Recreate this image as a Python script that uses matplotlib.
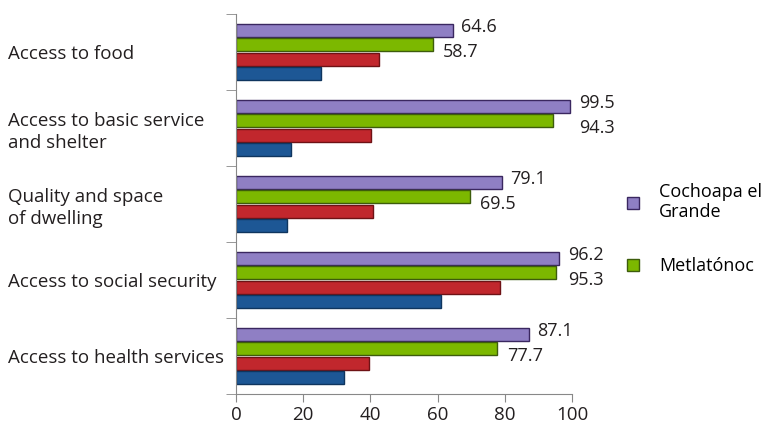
import numpy as np
from matplotlib import pyplot as plt

categories = ['Access to food', 'Access to basic service\nand shelter', 'Quality and space\nof dwelling',
              'Access to social security', 'Access to health services']
cochoapa = [64.6, 99.5, 79.1, 96.2, 87.1]
metlatonoc = [58.7, 94.3, 69.5, 95.3, 77.7]
red_series = [42.7, 40.3, 40.9, 78.5, 39.7]
blue_series = [25.2, 16.5, 15.3, 60.9, 32.2]

plt.rcParams['font.family'] = ['Open Sans', 'DejaVu Sans']
txt = '#231f20'

fig = plt.figure(figsize=(7.64, 4.23), dpi=100)
ax = fig.add_axes([236 / 764, 29 / 423, 336 / 764, 380 / 423])

y = np.arange(len(categories))
step = 0.192
h = 0.172
series = [
    (cochoapa, '#8f7fc4', '#3a2760', 'Cochoapa el\nGrande'),
    (metlatonoc, '#7cb800', '#3d5c0c', 'Metlatónoc'),
    (red_series, '#c1272d', '#6e1215', None),
    (blue_series, '#1d5795', '#0f355e', None),
]
for i, (vals, fc, ec, lab) in enumerate(series):
    pos = y - 1.5 * step + i * step
    ax.barh(pos, vals, height=h, color=fc, edgecolor=ec, linewidth=1, label=lab)

# value labels for the two named series
for k in range(len(categories)):
    p_top = y[k] - 1.5 * step
    px = cochoapa[k] + 2.5
    ax.text(px, p_top - 0.04, f'{cochoapa[k]:.1f}', va='center', ha='left', fontsize=13, color=txt)
    gx = metlatonoc[k] + 3
    if cochoapa[k] - metlatonoc[k] < 5.5:
        gx = px
    ax.text(gx, p_top + step + 0.09, f'{metlatonoc[k]:.1f}', va='center', ha='left', fontsize=13, color=txt)

ax.set_xlim(0, 100)
ax.set_ylim(len(categories) - 0.5, -0.5)
ax.set_xticks([0, 20, 40, 60, 80, 100])
ax.set_yticks(y)
ax.set_yticklabels(categories, fontsize=13.5, color=txt, ha='left', linespacing=1.3)
ax.tick_params(axis='y', length=0, pad=164)
ax.set_yticks(np.arange(len(categories) + 1) - 0.5, minor=True)
ax.tick_params(axis='y', which='minor', length=7, color='#888888')
ax.tick_params(axis='x', length=5.5, color='#888888', labelsize=13.5, labelcolor=txt, pad=3)
for s in ['top', 'right']:
    ax.spines[s].set_visible(False)
ax.spines['left'].set_color('#888888')
ax.spines['bottom'].set_color('#888888')

handles, labels = ax.get_legend_handles_labels()
fig.legend(handles, labels, loc='center left', bbox_to_anchor=(611 / 764, 1 - 229 / 423),
           frameon=False, fontsize=13, handlelength=0.65, handleheight=0.65,
           labelspacing=2.0, handletextpad=1.1)

fig.savefig('out.png', dpi=100)
